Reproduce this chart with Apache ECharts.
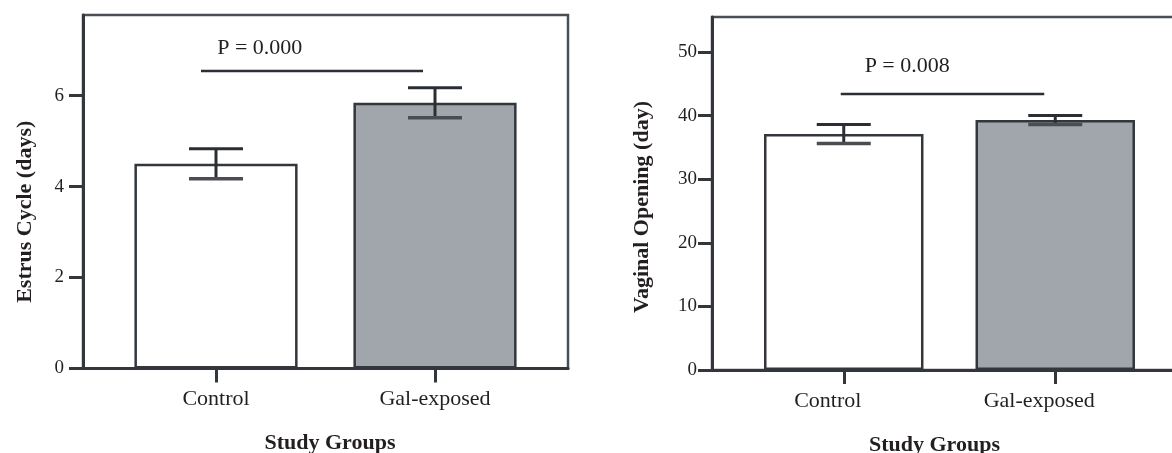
<!DOCTYPE html>
<html><head><meta charset="utf-8">
<script src="https://cdn.jsdelivr.net/npm/echarts@6/dist/echarts.min.js"></script>
<style>html,body{margin:0;padding:0;background:#fff}#c{width:1172px;height:453px}</style>
</head><body><div id="c"></div>
<script>
// ---- data ----
const categories = ['Control', 'Gal-exposed'];
const estrusMean = [4.5, 5.84];
const estrusErr = [0.33, 0.33];
const vaginalMean = [37.1, 39.3];
const vaginalErr = [1.5, 0.72];
const estrusTicks = [0, 2, 4, 6];
const vaginalTicks = [0, 10, 20, 30, 40, 50];
const estrusMax = 7.77;
const vaginalMax = 55.5;
const estrusSig = [0, 1, 6.54, 7.03];    // from cat, to cat, line value, text value
const vaginalSig = [0, 1, 43.4, 47.8];
const estrusP = 'P = 0.000';
const vaginalP = 'P = 0.008';
const yTitles = ['Estrus Cycle (days)', 'Vaginal Opening (day)'];
const xTitle = 'Study Groups';

// ---- styles ----
const FONT = '"Liberation Serif", "DejaVu Serif", serif';
const DARK = '#33373c';
const TXT = '#231f20';
const fills = ['#ffffff', '#a1a6ac'];

const chart = echarts.init(document.getElementById('c'));

function frameGrid(left, top, width, height) {
  return { left, top, width, height, show: true, borderColor: '#4a4f55', borderWidth: 2.5, backgroundColor: 'transparent', containLabel: false, outerBoundsMode: 'none' };
}
function barGrid(left, top, width, height) {
  return { left, top, width, height, containLabel: false, outerBoundsMode: 'none' };
}
function frameX(gi) {
  return { type: 'value', gridIndex: gi, min: 0, max: 1, position: 'bottom',
    axisLine: { show: true, lineStyle: { color: DARK, width: 3 } },
    axisTick: { show: false }, axisLabel: { show: false }, splitLine: { show: false } };
}
function catX(gi, labelPad, namePad) {
  return { type: 'category', gridIndex: gi, data: categories, boundaryGap: true,
    axisLine: { show: false },
    axisTick: { show: true, alignWithLabel: true, length: 14, lineStyle: { color: DARK, width: 3 } },
    axisLabel: { show: true, margin: 20, fontFamily: FONT, fontSize: 22, color: TXT, padding: labelPad },
    name: xTitle, nameLocation: 'middle', nameGap: 64,
    nameTextStyle: { fontFamily: FONT, fontSize: 22, fontWeight: 'bold', color: TXT, padding: namePad } };
}
function frameY(gi, max, ticks, margin, labelPad, title, gap, tpad) {
  return { type: 'value', gridIndex: gi, min: 0, max: max,
    axisLine: { show: true, lineStyle: { color: DARK, width: 3 } },
    axisTick: { show: true, inside: false, length: 14, customValues: ticks, lineStyle: { color: DARK, width: 3 } },
    axisLabel: { show: true, customValues: ticks, margin: margin, padding: labelPad, fontFamily: FONT, fontSize: 19, color: TXT },
    splitLine: { show: false },
    name: title, nameLocation: 'middle', nameGap: gap,
    nameTextStyle: { fontFamily: FONT, fontSize: 22, fontWeight: 'bold', color: TXT, padding: tpad } };
}
function hiddenY(gi, max) {
  return { type: 'value', gridIndex: gi, min: 0, max: max, show: false, splitLine: { show: false } };
}
function barSeries(xi, yi, values, widthPct) {
  return { type: 'bar', xAxisIndex: xi, yAxisIndex: yi, barWidth: widthPct, z: 3,
    data: values.map((v, i) => ({ value: v, itemStyle: { color: fills[i] } })),
    itemStyle: { borderColor: DARK, borderWidth: 2.5 } };
}
function errSeries(xi, yi, means, errs) {
  return { type: 'custom', xAxisIndex: xi, yAxisIndex: yi, z: 5,
    data: means.map((m, i) => [i, m, errs[i]]),
    renderItem: function (params, api) {
      const i = api.value(0), m = api.value(1), e = api.value(2);
      const top = api.coord([i, m + e]);
      const bot = api.coord([i, m - e]);
      const hw = 27;
      const ls = { stroke: '#2b2f33', lineWidth: 3 };
      return { type: 'group', children: [
        { type: 'line', shape: { x1: top[0], y1: top[1], x2: bot[0], y2: bot[1] }, style: ls },
        { type: 'line', shape: { x1: top[0] - hw, y1: top[1], x2: top[0] + hw, y2: top[1] }, style: ls },
        { type: 'line', shape: { x1: bot[0] - hw, y1: bot[1], x2: bot[0] + hw, y2: bot[1] }, style: { stroke: '#4a4e53', lineWidth: 3.5 } }
      ] };
    } };
}
function sigSeries(xi, yi, sig, label, offA, offB, textFrac) {
  return { type: 'custom', xAxisIndex: xi, yAxisIndex: yi, z: 5,
    data: [sig],
    renderItem: function (params, api) {
      const a = api.coord([api.value(0), api.value(2)]);
      const b = api.coord([api.value(1), api.value(2)]);
      const t = api.coord([api.value(0), api.value(3)]);
      const tx = a[0] + (b[0] - a[0]) * textFrac;
      return { type: 'group', children: [
        { type: 'line', shape: { x1: a[0] + offA, y1: a[1], x2: b[0] + offB, y2: b[1] }, style: { stroke: '#2b2f33', lineWidth: 2.5 } },
        { type: 'text', style: { text: label, x: tx, y: t[1], textAlign: 'center', textVerticalAlign: 'middle', font: '22px ' + FONT, fill: TXT } }
      ] };
    } };
}

chart.setOption({
  animation: false,
  backgroundColor: '#fff',
  grid: [
    frameGrid(83, 15, 485, 353.5),
    barGrid(106.5, 15, 438, 353.5),
    frameGrid(712, 17, 480, 353),
    barGrid(738, 17, 423, 353)
  ],
  xAxis: [
    frameX(0),
    catX(1, [0, 0, 0, 0], [0, 0, 0, 9]),
    frameX(2),
    catX(3, [0, 32, 0, 0], [0, 30, 0, 0])
  ],
  yAxis: [
    frameY(0, estrusMax, estrusTicks, 19, [0, 0, 0, 0], yTitles[0], 47, [0, 40, 0, 0]),
    hiddenY(1, estrusMax),
    frameY(2, vaginalMax, vaginalTicks, 15, [10, 0, 0, 0], yTitles[1], 59, [0, 27, 0, 0]),
    hiddenY(3, vaginalMax)
  ],
  series: [
    barSeries(1, 1, estrusMean, '74.5%'),
    errSeries(1, 1, estrusMean, estrusErr),
    sigSeries(1, 1, estrusSig, estrusP, -15, -12, 0.2),
    barSeries(3, 3, vaginalMean, '75.4%'),
    errSeries(3, 3, vaginalMean, vaginalErr),
    sigSeries(3, 3, vaginalSig, vaginalP, -3, -11, 0.3)
  ]
});
</script>
</body></html>
